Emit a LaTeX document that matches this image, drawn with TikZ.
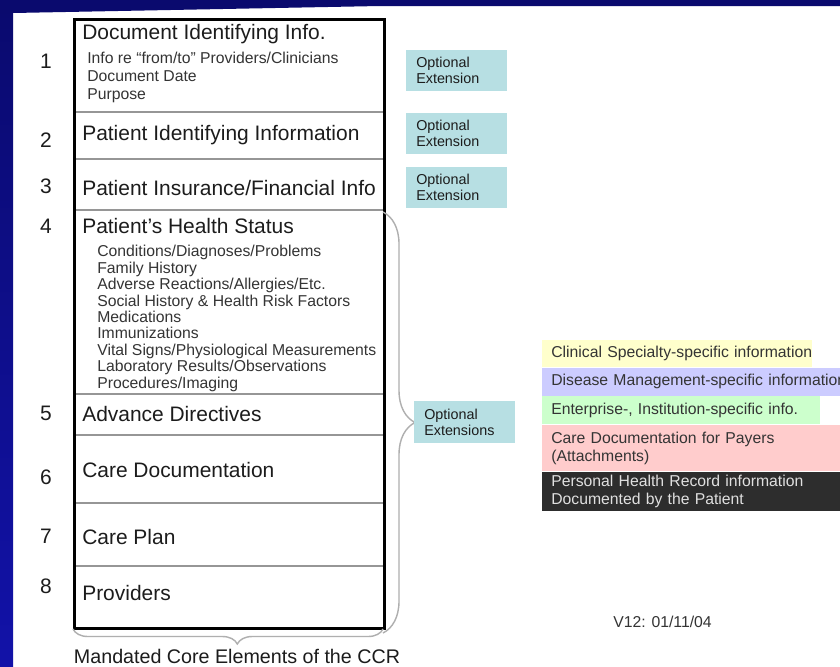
\documentclass[tikz,border=0pt]{standalone}
\usepackage{fontspec}
\setmainfont{Liberation Sans}
\usepackage{xcolor}
\usetikzlibrary{backgrounds, decorations.pathreplacing}
\definecolor{slidetop}{RGB}{10, 10, 110}
\definecolor{slidebottom}{RGB}{18, 18, 168}
\definecolor{darktext}{RGB}{28, 28, 28}
\definecolor{itemgrey}{RGB}{52, 52, 52}
\definecolor{dividergrey}{RGB}{150, 150, 150}
\definecolor{bracegrey}{RGB}{175, 175, 175}
\definecolor{extteal}{RGB}{183, 223, 227}
\definecolor{bandyellow}{RGB}{255, 255, 204}
\definecolor{bandlilac}{RGB}{204, 204, 255}
\definecolor{bandgreen}{RGB}{204, 255, 204}
\definecolor{bandpink}{RGB}{255, 204, 204}
\definecolor{bandblack}{RGB}{45, 45, 45}

\begin{document}
\begin{tikzpicture}[
  x=0.025cm, y=-0.025cm,
  font=\fontsize{11.2}{12.8}\selectfont,
  num/.style={font=\fontsize{14.9}{17}\selectfont, text=darktext, inner sep=0, anchor=base},
  head/.style={font=\fontsize{14.9}{17}\selectfont, text=darktext, inner sep=0, anchor=base west},
  items/.style={font=\fontsize{11.2}{#1}\selectfont, text=itemgrey, inner sep=0, anchor=base west, align=left},
  ext/.style={fill=extteal, anchor=north west, inner xsep=0.25cm, inner ysep=0, text width=2.025cm, minimum height=#1, align=left, font=\fontsize{10.2}{11.4}\selectfont, text=darktext},
  ext/.default=1.025cm,
  band/.style={fill=#1, anchor=north west, inner xsep=0.225cm, inner ysep=0, align=left, text=itemgrey},
  brace/.style={decorate, draw=bracegrey, line width=1pt},
  divider/.style={draw=dividergrey, line width=1pt}
]
\useasboundingbox (0,0) rectangle (840,666);

% Core elements: outer box, rows and numbers
\node[draw=black, line width=2.2pt, minimum width=7.75cm, minimum height=15.225cm, anchor=north west, inner sep=0] (ccr) at (73,18) {};
\begin{scope}[on background layer]
  % slide background and frame
  \fill[white] (0,0) rectangle (840,666);
  \fill[top color=slidetop, bottom color=slidebottom] (0,0) rectangle (13,666);
  \fill[slidetop] (0,0) -- (840,0) -- (840,6) -- (380,6) -- (13,13) -- (0,13) -- cycle;
  % row dividers, under the frame of the box
  \foreach \y in {112,159,210,394,435,503,566}
    \draw[divider] (ccr.west |- 0,\y) -- (ccr.east |- 0,\y);
\end{scope}
\foreach \n/\y in {1/68, 2/147, 3/193, 4/233, 5/420, 6/484, 7/543, 8/593}
  \node[num] (n\n) at (46,\y) {\n};

% multi-line lists sit on the baseline of their last line
\node[head] (h1) at (82,39) {Document Identifying Info.};
\node[items=12.8pt] (sub1) at (87,99) {Info re ``from/to'' Providers/Clinicians\\Document Date\\Purpose};
\node[head] (h2) at (82,140) {Patient Identifying Information};
\node[head] (h3) at (82,195) {Patient Insurance/Financial Info};
\node[head] (h4) at (82,233) {Patient's Health Status};
\node[items=11.66pt] (sub4) at (97,388) {Conditions/Diagnoses/Problems\\Family History\\Adverse Reactions/Allergies/Etc.\\Social History \& Health Risk Factors\\Medications\\Immunizations\\Vital Signs/Physiological Measurements\\Laboratory Results/Observations\\Procedures/Imaging};
\node[head] (h5) at (82,421) {Advance Directives};
\node[head] (h6) at (82,477) {Care Documentation};
\node[head] (h7) at (82,544) {Care Plan};
\node[head] (h8) at (82,600) {Providers};

% Braces
\draw[brace, decoration={brace, amplitude=0.8cm}] (383,212) -- (383,633);
\draw[brace, decoration={brace, mirror, amplitude=0.375cm, aspect=0.53}] (73,629) -- (383,629);
\node[font=\fontsize{14}{16}\selectfont, text=darktext, anchor=base, inner sep=0] (mand) at (237,663) {Mandated Core Elements of the CCR};

% Optional extensions
\node[ext] (ext1) at (406,50) {Optional\\Extension};
\node[ext] (ext2) at (406,113) {Optional\\Extension};
\node[ext] (ext3) at (406,167) {Optional\\Extension};
\node[ext=1.05cm] (ext4) at (414,401) {Optional\\Extensions};

% Extension bands
\node[band=bandyellow, text width=6.3cm, minimum height=0.675cm] (clin) at (542,340) {\mbox{Clinical Specialty-specific information}};
\node[band=bandlilac, text width=7.55cm, minimum height=0.7cm] (dis) at (clin.south west) {\mbox{Disease Management-specific information}};
\node[band=bandgreen, text width=6.5cm, minimum height=0.7cm] (ent) at (dis.south west) {Enterprise-, Institution-specific info.};
\node[band=bandpink, text width=7.55cm, minimum height=1.15cm] (pay) at (ent.south west) {Care Documentation for Payers\\(Attachments)};
\node[band=bandblack, text width=7.55cm, minimum height=0.975cm, text=white!88!black] (phr) at (pay.south west) {Personal Health Record information\\Documented by the Patient};

\node[anchor=base west, inner sep=0, text=itemgrey] (ver) at (613,627) {V12: 01/11/04};
\end{tikzpicture}
\end{document}
